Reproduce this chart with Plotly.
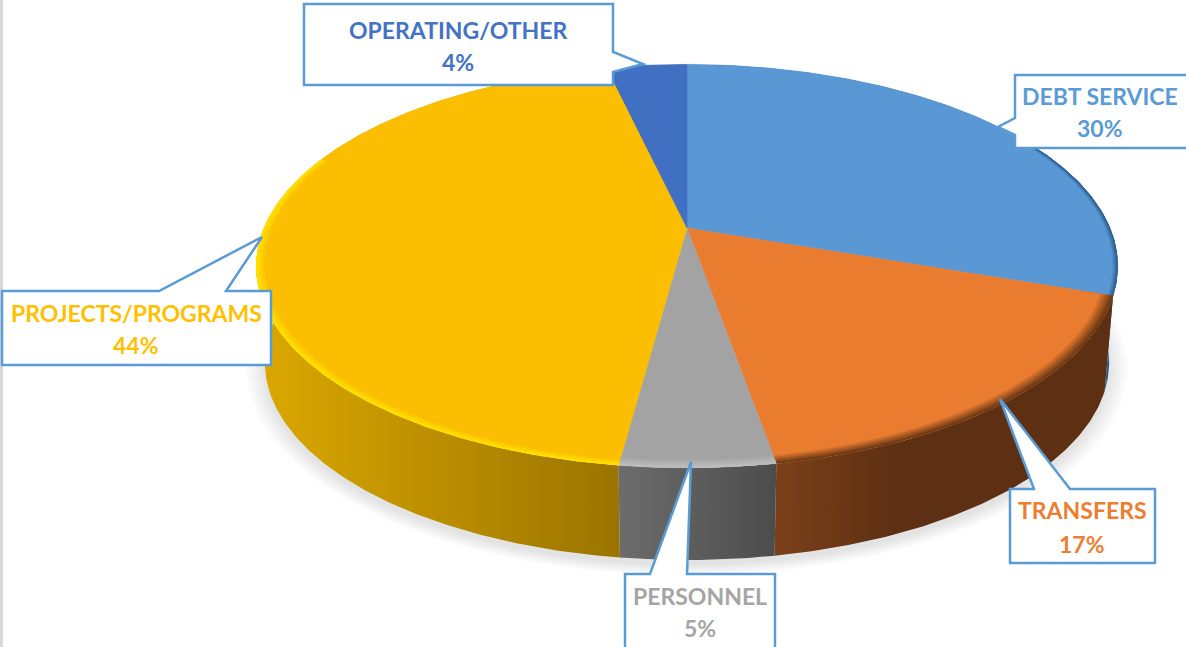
import numpy as np
import plotly.graph_objects as go

categories = ["DEBT SERVICE", "TRANSFERS", "PERSONNEL", "PROJECTS/PROGRAMS", "OPERATING/OTHER"]
values = [30.3, 16.95, 4.85, 44.3, 3.6]
top_colors = ["#5998D5", "#EA7C30", "#A3A3A3", "#FBBE00", "#4170C2"]
text_colors = ["#5B9BD5", "#ED7D31", "#A5A5A5", "#FFC000", "#4472C4"]
side_scale = [
    [[0, "#3A6E9E"], [1, "#2C5A85"]],
    [[0, "#7B4019"], [0.35, "#5E3013"], [1, "#5E3013"]],
    [[0, "#6C6C6C"], [1, "#4C4C4C"]],
    [[0, "#DCA800"], [1, "#9A7400"]],
    [[0, "#2F5597"], [1, "#2F5597"]],
]
rim_colors = ["#2F5F8E", "#6E3A16", "#BDBDBD", "#FFE100", "#4170C2"]
rim_depth = [0.012, 0.028, 0.028, 0.02, 0.01]

W, H = 1186, 647
CX, TOP_Y, BOT_Y = 687, 228, 325
A, B, K = 423, 194.5, 0.189
BOT_S = 0.98


def project(theta, s=1.0, cy=TOP_Y, scale=1.0):
    u, v = s * np.sin(theta), s * np.cos(theta)
    d = 1 + K * v
    return CX + scale * A * u / d, cy - scale * B * v / d


def arc(t0, t1):
    n = max(4, int(abs(t1 - t0) / 0.01))
    return np.linspace(t0, t1, n)


fig = go.Figure()
total = sum(values)
edges = 2 * np.pi * np.concatenate([[0], np.cumsum(values)]) / total

# soft shadow under the pie
full = np.linspace(0, 2 * np.pi, 360)
for i in range(14):
    sc = 1.045 - 0.0035 * i
    x, y = project(full, 1.0, BOT_Y + 5, BOT_S * sc)
    fig.add_trace(go.Scatter(x=x, y=y, mode="lines", fill="toself", line=dict(width=0),
                             fillcolor="rgba(130,130,130,0.018)", hoverinfo="skip"))

# sides, back to front
order = [4, 0, 3, 1, 2]
for i in order:
    t = arc(edges[i], edges[i + 1])
    xt, yt = project(t)
    xb, yb = project(t[::-1], 1.0, BOT_Y, BOT_S)
    fig.add_trace(go.Scatter(
        x=np.concatenate([xt, xb]), y=np.concatenate([yt, yb]), mode="lines", fill="toself",
        line=dict(width=0),
        fillgradient=dict(type="horizontal", colorscale=side_scale[i]),
        hoverinfo="skip"))

# top faces
for i in range(len(values)):
    t = arc(edges[i], edges[i + 1])
    x, y = project(t)
    fig.add_trace(go.Scatter(
        x=np.concatenate([[CX], x, [CX]]), y=np.concatenate([[TOP_Y], y, [TOP_Y]]),
        mode="lines", fill="toself", line=dict(width=0.5, color=top_colors[i]),
        fillcolor=top_colors[i], hoverinfo="skip"))


def mix(c1, c2, f):
    a = [int(c1[j:j + 2], 16) for j in (1, 3, 5)]
    b = [int(c2[j:j + 2], 16) for j in (1, 3, 5)]
    return "rgb(%d,%d,%d)" % tuple(round(p + (q - p) * f) for p, q in zip(a, b))


# bevel on the front of the rim
front0, front1 = np.radians(62), np.radians(292)
for i in range(len(values)):
    t0, t1 = max(edges[i], front0), min(edges[i + 1], front1)
    if t1 <= t0:
        continue
    t = arc(t0, t1)
    for step in range(6):
        s0 = 1 - rim_depth[i] * (1 - step / 6)
        x0, y0 = project(t, s0)
        x1, y1 = project(t[::-1], 1.0)
        fig.add_trace(go.Scatter(
            x=np.concatenate([x0, x1]), y=np.concatenate([y0, y1]), mode="lines", fill="toself",
            line=dict(width=0), fillcolor=mix(top_colors[i], rim_colors[i], (step + 1) / 6),
            hoverinfo="skip"))

BORDER = "#5B9BD5"
callouts = [
    "M 1015 75 L 1190 75 L 1190 148 L 1015 148 L 1015 135 L 998 127 L 1015 118 Z",
    "M 1010 489 L 1034 489 L 1000 399 L 1070 489 L 1155 489 L 1155 563 L 1010 563 Z",
    "M 625 574 L 650 574 L 691 462 L 687 574 L 775 574 L 775 650 L 625 650 Z",
    "M 2 291 L 159 291 L 262 237 L 226 291 L 271 291 L 271 365 L 2 365 Z",
    "M 304 4 L 613 4 L 613 52 L 643 64 L 613 72 L 613 85 L 304 85 Z",
]
name_pos = [(1100, 96), (1082, 510), (700, 596), (136, 313), (458, 30)]
pct_pos = [(1100, 128), (1082, 544), (700, 628), (136, 345), (458, 62)]

shapes = [dict(type="rect", xref="x", yref="y", x0=0, x1=3, y0=0, y1=H,
               fillcolor="#D9D9D9", line=dict(width=0), layer="above")]
for path in callouts:
    shapes.append(dict(type="path", path=path, xref="x", yref="y", fillcolor="white",
                       line=dict(color=BORDER, width=2.5), layer="above"))

annotations = []
for i, cat in enumerate(categories):
    font = dict(family="Lato", size=23, color=text_colors[i])
    annotations.append(dict(x=name_pos[i][0], y=name_pos[i][1], xref="x", yref="y", text=f"<b>{cat}</b>",
                            showarrow=False, font=font))
    annotations.append(dict(x=pct_pos[i][0], y=pct_pos[i][1], xref="x", yref="y",
                            text=f"<b>{round(values[i] / total * 100)}%</b>", showarrow=False, font=font))

fig.update_layout(
    width=W, height=H, margin=dict(l=0, r=0, t=0, b=0), showlegend=False,
    paper_bgcolor="white", plot_bgcolor="white",
    xaxis=dict(range=[0, W], visible=False, fixedrange=True),
    yaxis=dict(range=[H, 0], visible=False, fixedrange=True),
    shapes=shapes, annotations=annotations,
)
fig.write_html("out.html", config={"displayModeBar": False},
               post_script="document.body.style.margin='0';document.body.style.overflow='hidden';")
